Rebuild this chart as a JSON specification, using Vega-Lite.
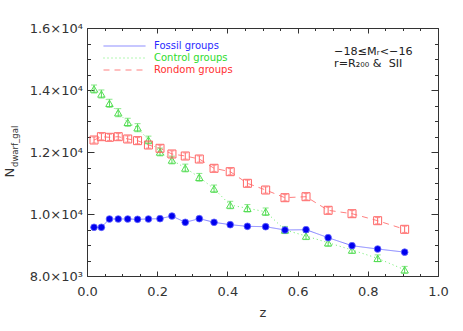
{
  "$schema": "https://vega.github.io/schema/vega-lite/v6.json",
  "width": 351,
  "height": 248,
  "autosize": {"type": "none"},
  "padding": {"left": 87, "top": 28, "right": 25, "bottom": 55},
  "background": "white",
  "config": {"view": {"stroke": null}, "font": "DejaVu Sans"},
  "datasets": {
    "pts": [
      {"group": "Fossil groups", "z": 0.020, "v": 9571, "e": 60},
      {"group": "Fossil groups", "z": 0.041, "v": 9571, "e": 60},
      {"group": "Fossil groups", "z": 0.064, "v": 9839, "e": 60},
      {"group": "Fossil groups", "z": 0.089, "v": 9839, "e": 60},
      {"group": "Fossil groups", "z": 0.116, "v": 9839, "e": 60},
      {"group": "Fossil groups", "z": 0.144, "v": 9829, "e": 60},
      {"group": "Fossil groups", "z": 0.175, "v": 9839, "e": 60},
      {"group": "Fossil groups", "z": 0.208, "v": 9850, "e": 60},
      {"group": "Fossil groups", "z": 0.242, "v": 9935, "e": 60},
      {"group": "Fossil groups", "z": 0.280, "v": 9732, "e": 60},
      {"group": "Fossil groups", "z": 0.320, "v": 9850, "e": 60},
      {"group": "Fossil groups", "z": 0.362, "v": 9732, "e": 60},
      {"group": "Fossil groups", "z": 0.408, "v": 9655, "e": 60},
      {"group": "Fossil groups", "z": 0.457, "v": 9603, "e": 60},
      {"group": "Fossil groups", "z": 0.509, "v": 9590, "e": 60},
      {"group": "Fossil groups", "z": 0.564, "v": 9484, "e": 60},
      {"group": "Fossil groups", "z": 0.624, "v": 9494, "e": 60},
      {"group": "Fossil groups", "z": 0.687, "v": 9236, "e": 60},
      {"group": "Fossil groups", "z": 0.755, "v": 8977, "e": 60},
      {"group": "Fossil groups", "z": 0.828, "v": 8871, "e": 60},
      {"group": "Fossil groups", "z": 0.905, "v": 8770, "e": 60},
      {"group": "Control groups", "z": 0.020, "v": 14032, "e": 130},
      {"group": "Control groups", "z": 0.041, "v": 13871, "e": 130},
      {"group": "Control groups", "z": 0.064, "v": 13571, "e": 130},
      {"group": "Control groups", "z": 0.089, "v": 13268, "e": 130},
      {"group": "Control groups", "z": 0.116, "v": 12958, "e": 130},
      {"group": "Control groups", "z": 0.144, "v": 12784, "e": 130},
      {"group": "Control groups", "z": 0.175, "v": 12387, "e": 125},
      {"group": "Control groups", "z": 0.208, "v": 12000, "e": 125},
      {"group": "Control groups", "z": 0.242, "v": 11742, "e": 125},
      {"group": "Control groups", "z": 0.280, "v": 11484, "e": 125},
      {"group": "Control groups", "z": 0.320, "v": 11184, "e": 125},
      {"group": "Control groups", "z": 0.362, "v": 10815, "e": 120},
      {"group": "Control groups", "z": 0.408, "v": 10290, "e": 120},
      {"group": "Control groups", "z": 0.457, "v": 10184, "e": 120},
      {"group": "Control groups", "z": 0.509, "v": 10074, "e": 120},
      {"group": "Control groups", "z": 0.564, "v": 9484, "e": 115},
      {"group": "Control groups", "z": 0.624, "v": 9290, "e": 115},
      {"group": "Control groups", "z": 0.687, "v": 9074, "e": 115},
      {"group": "Control groups", "z": 0.755, "v": 8839, "e": 110},
      {"group": "Control groups", "z": 0.828, "v": 8571, "e": 110},
      {"group": "Control groups", "z": 0.905, "v": 8200, "e": 110},
      {"group": "Rondom groups", "z": 0.020, "v": 12387, "e": 100},
      {"group": "Rondom groups", "z": 0.041, "v": 12494, "e": 100},
      {"group": "Rondom groups", "z": 0.064, "v": 12474, "e": 100},
      {"group": "Rondom groups", "z": 0.089, "v": 12494, "e": 100},
      {"group": "Rondom groups", "z": 0.116, "v": 12420, "e": 100},
      {"group": "Rondom groups", "z": 0.144, "v": 12366, "e": 100},
      {"group": "Rondom groups", "z": 0.175, "v": 12226, "e": 100},
      {"group": "Rondom groups", "z": 0.208, "v": 12119, "e": 100},
      {"group": "Rondom groups", "z": 0.242, "v": 11936, "e": 100},
      {"group": "Rondom groups", "z": 0.280, "v": 11871, "e": 100},
      {"group": "Rondom groups", "z": 0.320, "v": 11774, "e": 100},
      {"group": "Rondom groups", "z": 0.362, "v": 11474, "e": 100},
      {"group": "Rondom groups", "z": 0.408, "v": 11365, "e": 100},
      {"group": "Rondom groups", "z": 0.457, "v": 10990, "e": 100},
      {"group": "Rondom groups", "z": 0.509, "v": 10774, "e": 100},
      {"group": "Rondom groups", "z": 0.564, "v": 10526, "e": 100},
      {"group": "Rondom groups", "z": 0.624, "v": 10558, "e": 100},
      {"group": "Rondom groups", "z": 0.687, "v": 10119, "e": 100},
      {"group": "Rondom groups", "z": 0.755, "v": 10010, "e": 100},
      {"group": "Rondom groups", "z": 0.828, "v": 9784, "e": 100},
      {"group": "Rondom groups", "z": 0.905, "v": 9506, "e": 100}
    ],
    "notes": [
      {"line": 1, "z": 0.704, "v": 15129, "text": "−18≤Mᵣ<−16"},
      {"line": 2, "z": 0.704, "v": 14733, "text": "r=R₂₀₀ & \u00a0SII"}
    ]
  },
  "layer": [
    {
      "data": {"name": "pts"},
      "encoding": {
        "x": {
          "field": "z", "type": "quantitative", "title": "z",
          "scale": {"domain": [0, 1], "nice": false, "zero": false},
          "axis": {
            "orient": "bottom",
            "values": [0, 0.05, 0.1, 0.15, 0.2, 0.25, 0.3, 0.35, 0.4, 0.45, 0.5, 0.55, 0.6, 0.65, 0.7, 0.75, 0.8, 0.85, 0.9, 0.95, 1],
            "labelExpr": "abs(datum.value*5 - round(datum.value*5)) < 0.000001 ? format(datum.value, '.1f') : ''",
            "grid": false,
            "domainColor": "#333333", "domainWidth": 1,
            "tickColor": "#333333", "tickWidth": 1,
            "tickSize": {"condition": {"test": "abs(datum.value*5 - round(datum.value*5)) < 0.000001", "value": -5}, "value": -2.5},
            "labelFont": "DejaVu Sans", "labelFontSize": 13, "labelColor": "#333333",
            "labelBaseline": "alphabetic", "labelPadding": 24, "labelFlush": false, "labelOverlap": false,
            "titleFont": "DejaVu Sans", "titleFontSize": 13, "titleFontWeight": "normal", "titleColor": "#333333",
            "titleBaseline": "alphabetic", "titleY": 40
          }
        },
        "y": {
          "field": "v", "type": "quantitative", "title": "N",
          "scale": {"domain": [8000, 16000], "nice": false, "zero": false},
          "axis": {
            "orient": "left",
            "values": [8000, 8500, 9000, 9500, 10000, 10500, 11000, 11500, 12000, 12500, 13000, 13500, 14000, 14500, 15000, 15500, 16000],
            "labelExpr": "datum.value === 8000 ? '8.0×10³' : (datum.value % 2000 === 0 ? format(datum.value/10000, '.1f') + '×10⁴' : '')",
            "grid": false,
            "domainColor": "#333333", "domainWidth": 1,
            "tickColor": "#333333", "tickWidth": 1,
            "tickSize": {"condition": {"test": "datum.value % 2000 === 0", "value": -7}, "value": -3.5},
            "labelFont": "DejaVu Sans", "labelFontSize": 13, "labelColor": "#333333",
            "labelPadding": 11.5, "labelFlush": false, "labelOverlap": false,
            "titleFont": "DejaVu Sans", "titleFontSize": 13, "titleFontWeight": "normal", "titleColor": "#333333",
            "titleAngle": 270, "titleAlign": "left", "titleBaseline": "alphabetic", "titleX": -73.7, "titleY": 149
          }
        }
      },
      "layer": [
        {
          "mark": {"type": "line", "strokeWidth": 1},
          "encoding": {
            "color": {
              "field": "group", "type": "nominal",
              "scale": {"domain": ["Fossil groups", "Control groups", "Rondom groups"], "range": ["#7f7fff", "#66ee66", "#ff8080"]},
              "legend": {
                "title": null, "orient": "none", "legendX": 16, "legendY": 12.3, "padding": 0,
                "symbolType": "stroke", "symbolSize": 1764, "symbolStrokeWidth": 1, "clipHeight": 11.4, "rowPadding": 0,
                "labelOffset": 8, "labelFont": "DejaVu Sans", "labelFontSize": 10,
                "labelColor": {"expr": "datum.value === 'Fossil groups' ? '#2a2aff' : (datum.value === 'Control groups' ? '#2edc2e' : '#ff3030')"}
              }
            },
            "strokeDash": {
              "field": "group", "type": "nominal",
              "scale": {"domain": ["Fossil groups", "Control groups", "Rondom groups"], "range": [[1, 0], [1, 3], [6, 5]]},
              "legend": {
                "title": null, "orient": "none", "legendX": 16, "legendY": 12.3, "padding": 0,
                "symbolType": "stroke", "symbolSize": 1764, "symbolStrokeWidth": 1, "clipHeight": 11.4, "rowPadding": 0,
                "labelOffset": 8, "labelFont": "DejaVu Sans", "labelFontSize": 10,
                "labelColor": {"expr": "datum.value === 'Fossil groups' ? '#2a2aff' : (datum.value === 'Control groups' ? '#2edc2e' : '#ff3030')"}
              }
            }
          }
        },
        {
          "transform": [{"filter": "datum.group === 'Control groups'"}],
          "mark": {"type": "errorbar", "color": "#55dd55", "ticks": {"size": 6}, "thickness": 1},
          "encoding": {"yError": {"field": "e"}}
        },
        {
          "transform": [{"filter": "datum.group === 'Rondom groups'"}],
          "mark": {"type": "errorbar", "color": "#ff6666", "ticks": {"size": 5}, "thickness": 1},
          "encoding": {"yError": {"field": "e"}}
        },
        {
          "transform": [{"filter": "datum.group === 'Fossil groups'"}],
          "mark": {"type": "errorbar", "color": "#3333ff", "ticks": {"size": 5}, "thickness": 1},
          "encoding": {"yError": {"field": "e"}}
        },
        {
          "transform": [{"filter": "datum.group === 'Control groups'"}],
          "mark": {"type": "point", "shape": "triangle-up", "filled": false, "size": 55, "color": "#55dd55", "strokeWidth": 1, "opacity": 1}
        },
        {
          "transform": [{"filter": "datum.group === 'Rondom groups'"}],
          "mark": {"type": "point", "shape": "square", "filled": false, "size": 64, "color": "#ff6666", "strokeWidth": 1, "opacity": 1}
        },
        {
          "transform": [{"filter": "datum.group === 'Fossil groups'"}],
          "mark": {"type": "point", "shape": "circle", "filled": true, "size": 45, "color": "#0000ee", "stroke": "#6666ff", "strokeWidth": 0.8, "opacity": 1}
        }
      ]
    },
    {
      "data": {"name": "notes"},
      "transform": [{"filter": "datum.line === 1"}],
      "mark": {"type": "text", "align": "left", "baseline": "alphabetic", "font": "DejaVu Sans", "fontSize": 11.2, "color": "#222222"},
      "encoding": {
        "x": {
          "field": "z", "type": "quantitative", "title": null,
          "scale": {"domain": [0, 1], "nice": false, "zero": false},
          "axis": {
            "orient": "top",
            "values": [0, 0.05, 0.1, 0.15, 0.2, 0.25, 0.3, 0.35, 0.4, 0.45, 0.5, 0.55, 0.6, 0.65, 0.7, 0.75, 0.8, 0.85, 0.9, 0.95, 1],
            "labels": false, "grid": false,
            "domainColor": "#333333", "domainWidth": 1,
            "tickColor": "#333333", "tickWidth": 1,
            "tickSize": {"condition": {"test": "abs(datum.value*5 - round(datum.value*5)) < 0.000001", "value": -5}, "value": -2.5}
          }
        },
        "y": {
          "field": "v", "type": "quantitative", "title": null,
          "scale": {"domain": [8000, 16000], "nice": false, "zero": false},
          "axis": {
            "orient": "right",
            "values": [8000, 8500, 9000, 9500, 10000, 10500, 11000, 11500, 12000, 12500, 13000, 13500, 14000, 14500, 15000, 15500, 16000],
            "labels": false, "grid": false,
            "domainColor": "#333333", "domainWidth": 1,
            "tickColor": "#333333", "tickWidth": 1,
            "tickSize": {"condition": {"test": "datum.value % 2000 === 0", "value": -7}, "value": -3.5}
          }
        },
        "text": {"field": "text"}
      }
    },
    {
      "data": {"name": "notes"},
      "transform": [{"filter": "datum.line === 2"}],
      "mark": {"type": "text", "align": "left", "baseline": "alphabetic", "font": "DejaVu Sans", "fontSize": 11.2, "color": "#222222"},
      "encoding": {
        "x": {
          "field": "z", "type": "quantitative", "title": null,
          "scale": {"domain": [0, 1], "nice": false, "zero": false},
          "axis": null
        },
        "y": {
          "field": "v", "type": "quantitative", "title": "dwarf_gal",
          "scale": {"domain": [8000, 16000], "nice": false, "zero": false},
          "axis": {
            "orient": "left", "values": [], "labels": false, "ticks": false, "domain": false, "grid": false,
            "titleFont": "DejaVu Sans", "titleFontSize": 8.5, "titleFontWeight": "normal", "titleColor": "#333333",
            "titleAngle": 270, "titleAlign": "left", "titleBaseline": "alphabetic", "titleX": -70, "titleY": 138.5
          }
        },
        "text": {"field": "text"}
      }
    }
  ],
  "resolve": {"axis": {"x": "independent", "y": "independent"}}
}
